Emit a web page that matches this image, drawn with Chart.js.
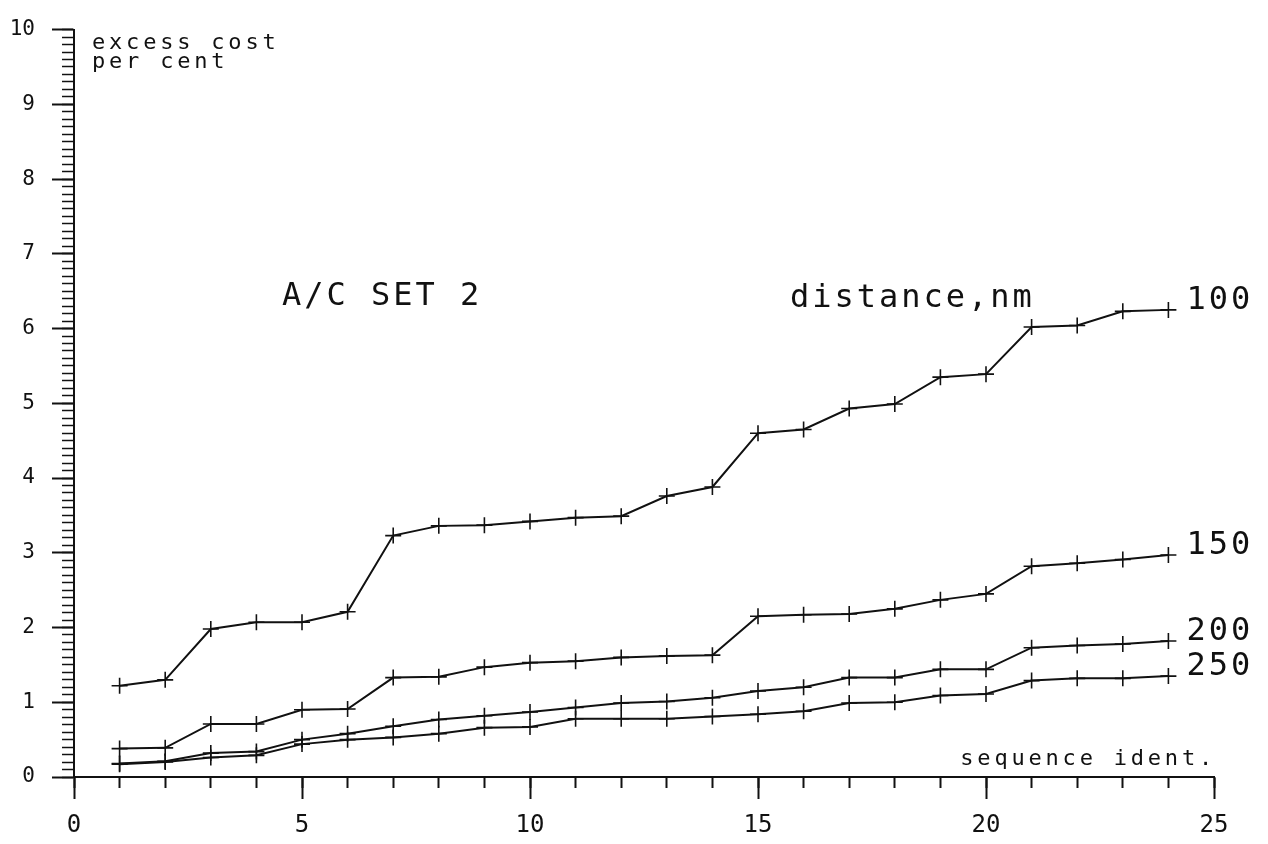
<!DOCTYPE html>
<html>
<head>
<meta charset="utf-8">
<script src="https://cdn.jsdelivr.net/npm/chart.js@4.4.1/dist/chart.umd.min.js"></script>
<style>
  html, body { margin: 0; padding: 0; background: #fff; }
  #wrap { width: 1268px; height: 844px; }
</style>
</head>
<body>
<div id="wrap"><canvas id="costChart" width="1268" height="844"></canvas></div>
<script>
// sequence ident. 1..24
const seqIdent = [1, 2, 3, 4, 5, 6, 7, 8, 9, 10, 11, 12, 13, 14, 15, 16, 17, 18, 19, 20, 21, 22, 23, 24];

// excess cost, per cent, for each distance (nm)
const cost100 = [1.22, 1.30, 1.98, 2.07, 2.07, 2.21, 3.23, 3.36, 3.37, 3.42, 3.47, 3.49, 3.76, 3.88, 4.60, 4.65, 4.93, 4.99, 5.35, 5.39, 6.02, 6.04, 6.23, 6.25];
const cost150 = [0.38, 0.39, 0.71, 0.71, 0.90, 0.91, 1.33, 1.34, 1.47, 1.53, 1.55, 1.60, 1.62, 1.63, 2.15, 2.17, 2.18, 2.25, 2.37, 2.45, 2.82, 2.86, 2.91, 2.97];
const cost200 = [0.18, 0.21, 0.32, 0.34, 0.50, 0.58, 0.68, 0.77, 0.82, 0.87, 0.93, 0.99, 1.01, 1.06, 1.15, 1.20, 1.33, 1.33, 1.44, 1.44, 1.73, 1.76, 1.78, 1.82];
const cost250 = [0.17, 0.20, 0.26, 0.29, 0.44, 0.50, 0.53, 0.58, 0.66, 0.67, 0.78, 0.78, 0.78, 0.81, 0.84, 0.88, 0.99, 1.00, 1.09, 1.11, 1.29, 1.32, 1.32, 1.35];

const distanceLabels = ['100', '150', '200', '250'];
const seriesValues = [cost100, cost150, cost200, cost250];

const xTicksMajor = 5;
const yTicksMajor = 1;

const INK = '#111';
const MONO = '"DejaVu Sans Mono", monospace';

const datasets = seriesValues.map((vals, i) => ({
    label: distanceLabels[i],
    data: seqIdent.map((s, j) => ({ x: s, y: vals[j] })),
    borderColor: INK,
    borderWidth: 2,
    pointStyle: 'cross',
    pointRadius: 8,
    pointBorderWidth: 1.6,
    pointBorderColor: INK,
    tension: 0,
    fill: false,
    xAxisID: 'x',
    yAxisID: 'y'
}));

// texts on the plot: title, axis captions, distance names at line ends
const plotText = {
    id: 'plotText',
    afterDatasetsDraw(chart) {
        const { ctx, chartArea, scales } = chart;
        const xs = scales.x, ys = scales.y;
        ctx.save();
        ctx.fillStyle = INK;
        ctx.textBaseline = 'middle';
        ctx.textAlign = 'left';

        ctx.font = '32px ' + MONO;
        ctx.letterSpacing = '3px';
        ctx.fillText('A/C SET 2', xs.getPixelForValue(4.56), ys.getPixelForValue(6.42));
        ctx.fillText('distance,nm', xs.getPixelForValue(15.7), ys.getPixelForValue(6.40));

        // names next to the last point of each line
        chart.data.datasets.forEach((ds, i) => {
            const meta = chart.getDatasetMeta(i);
            const last = meta.data[meta.data.length - 1];
            ctx.fillText(ds.label, last.x + 18, last.y - 9);
        });

        ctx.font = '22px ' + MONO;
        ctx.letterSpacing = '3.8px';
        ctx.textBaseline = 'alphabetic';
        ctx.fillText('excess cost', chartArea.left + 18, chartArea.top + 19);
        ctx.fillText('per cent', chartArea.left + 18, chartArea.top + 38);

        ctx.textAlign = 'right';
        ctx.fillText('sequence ident.', chartArea.right + 2, chartArea.bottom - 12);
        ctx.restore();
    }
};

new Chart(document.getElementById('costChart'), {
    type: 'line',
    data: { datasets },
    options: {
        responsive: false,
        animation: false,
        devicePixelRatio: 1,
        layout: { padding: { top: 18, right: 54, left: 0, bottom: 0 } },
        plugins: {
            legend: { display: false },
            tooltip: { enabled: false }
        },
        scales: {
            // major x ticks with labels
            x: {
                type: 'linear',
                position: 'bottom',
                weight: 1,
                min: 0,
                max: 25,
                afterFit: s => { s.height = 67; },
                border: { display: true, color: INK, width: 2 },
                grid: { drawOnChartArea: false, drawTicks: true, tickLength: 22, tickColor: INK, tickWidth: 2 },
                ticks: {
                    stepSize: xTicksMajor,
                    padding: 12,
                    color: INK,
                    font: { family: MONO, size: 24 },
                    maxRotation: 0,
                    autoSkip: false
                }
            },
            // minor x ticks, one per sequence
            xMinor: {
                type: 'linear',
                position: 'bottom',
                weight: 0,
                min: 0,
                max: 25,
                afterFit: s => { s.height = 0; },
                border: { display: false },
                grid: { drawOnChartArea: false, drawTicks: true, tickLength: 11, tickColor: INK, tickWidth: 2 },
                ticks: { stepSize: 1, display: false, autoSkip: false }
            },
            // major y ticks with labels
            y: {
                type: 'linear',
                position: 'left',
                weight: 1,
                min: 0,
                max: 10,
                afterFit: s => { s.width = 74; },
                border: { display: true, color: INK, width: 2 },
                grid: { drawOnChartArea: false, drawTicks: true, tickLength: 22, tickColor: INK, tickWidth: 2 },
                ticks: {
                    stepSize: yTicksMajor,
                    padding: 17,
                    color: INK,
                    font: { family: MONO, size: 21 },
                    autoSkip: false
                }
            },
            // minor y ticks every 0.1
            yMinor: {
                type: 'linear',
                position: 'left',
                weight: 0,
                min: 0,
                max: 10,
                afterFit: s => { s.width = 0; },
                border: { display: false },
                grid: { drawOnChartArea: false, drawTicks: true, tickLength: 12, tickColor: INK, tickWidth: 1.5 },
                ticks: { stepSize: 0.1, display: false, autoSkip: false }
            }
        }
    },
    plugins: [plotText]
});
</script>
</body>
</html>
